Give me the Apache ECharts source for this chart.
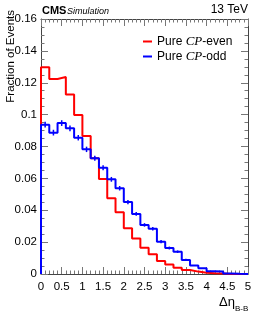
<!DOCTYPE html>
<html>
<head>
<meta charset="utf-8">
<script src="https://cdn.jsdelivr.net/npm/echarts@6/dist/echarts.min.js"></script>
<style>
html,body{margin:0;padding:0;background:#fff;}
#c{width:261px;height:327px;}
</style>
</head>
<body>
<div id="c"></div>
<script>
// Bin edges (Δη_B-B), 25 bins of width 0.2
var binEdges = [0,0.2,0.4,0.6,0.8,1.0,1.2,1.4,1.6,1.8,2.0,2.2,2.4,2.6,2.8,3.0,3.2,3.4,3.6,3.8,4.0,4.2,4.4,4.6,4.8,5.0];
var binCenters = [0.1,0.3,0.5,0.7,0.9,1.1,1.3,1.5,1.7,1.9,2.1,2.3,2.5,2.7,2.9,3.1,3.3,3.5,3.7,3.9,4.1,4.3,4.5,4.7,4.9];
// Pure CP-even (red)
var cpEven = [0.1297,0.1224,0.1236,0.1127,0.0998,0.0866,0.0726,0.0596,0.0475,0.0387,0.0287,0.0222,0.0165,0.0124,0.0082,0.0060,0.0040,0.0025,0.0015,0.0008,0.0005,0.0003,0,0,0];
// Pure CP-odd (blue)
var cpOdd = [0.0937,0.0887,0.0947,0.0914,0.0855,0.0782,0.0726,0.0667,0.0594,0.0538,0.0451,0.0377,0.0308,0.0284,0.0203,0.0163,0.0140,0.0088,0.0054,0.0036,0.0017,0.0016,0.0003,0.0001,0];
var cpOddErr = [0.0018,0.0018,0.0018,0.0018,0.0017,0.0017,0.0016,0.0016,0.0015,0.0014,0.0013,0.0012,0.0011,0.0011,0.0010,0.0009,0.0008,0.0007,0,0,0,0,0,0,0];
var yTicks = {min:0, max:0.16, interval:0.02};
var xTicks = {min:0, max:5, interval:0.5};

function stepData(vals){
  var d = [[binEdges[0],0]];
  for (var i=0;i<vals.length;i++){ d.push([binEdges[i], vals[i]]); }
  d.push([binEdges[binEdges.length-1], vals[vals.length-1]]);
  return d;
}
var errData = [];
for (var i=0;i<cpOdd.length;i++){ if(cpOddErr[i]>0) errData.push([binCenters[i], cpOdd[i], cpOddErr[i]]); }

var FONT = 'Liberation Sans';
var frameColor = '#444';
var tickColor = '#777';

function xAx(pos, show){
  return {
    type:'value', position:pos, min:xTicks.min, max:xTicks.max, interval:xTicks.interval,
    axisLine:{show:true, onZero:false, lineStyle:{color:frameColor, width:1}},
    axisTick:{show:true, inside:true, length:7, lineStyle:{color:tickColor}},
    minorTick:{show:true, splitNumber:5, length:3.5, lineStyle:{color:tickColor}},
    splitLine:{show:false},
    axisLabel:{show:show, color:'#000', fontSize:11.5, fontFamily:FONT, margin:7,
      formatter:function(v){return String(v);}}
  };
}
function yAx(pos, show){
  return {
    type:'value', position:pos, min:yTicks.min, max:yTicks.max, interval:yTicks.interval,
    axisLine:{show:true, onZero:false, lineStyle:{color:frameColor, width:1}},
    axisTick:{show:true, inside:true, length:7, lineStyle:{color:tickColor}},
    minorTick:{show:true, splitNumber:4, length:3.5, lineStyle:{color:tickColor}},
    splitLine:{show:false},
    axisLabel:{show:show, color:'#000', fontSize:11.5, fontFamily:FONT, margin:4,
      formatter:function(v){return String(Math.round(v*100)/100);}}
  };
}

var chart = echarts.init(document.getElementById('c'), null, {renderer:'canvas'});
chart.setOption({
  animation:false,
  backgroundColor:'#fff',
  grid:{left:41, right:13, top:19, bottom:53, containLabel:false},
  xAxis:[xAx('bottom', true), xAx('top', false)],
  yAxis:[yAx('left', true), yAx('right', false)],
  legend:{
    left:143, top:35, orient:'vertical', icon:'rect', itemWidth:9, itemHeight:2, itemGap:2, padding:[0,0,0,0],
    data:['Pure CP-even','Pure CP-odd'],
    textStyle:{color:'#000', fontSize:12, fontFamily:FONT,
      rich:{i:{fontStyle:'italic', fontFamily:'Liberation Serif', fontSize:13, color:'#000'}}},
    formatter:function(n){ return n.replace('CP','{i|CP}'); }
  },
  series:[
    {name:'Pure CP-even', type:'line', step:'end', symbol:'none', data:stepData(cpEven),
      lineStyle:{color:'#ff0000', width:2}, itemStyle:{color:'#ff0000'}, z:2},
    {name:'Pure CP-odd', type:'line', step:'end', symbol:'none', data:stepData(cpOdd),
      lineStyle:{color:'#0000ff', width:2}, itemStyle:{color:'#0000ff'}, z:3},
    {name:'odd-err', type:'custom', data:errData, z:4,
      renderItem:function(params, api){
        var x=api.value(0), y=api.value(1), e=api.value(2);
        var p1=api.coord([x,y+e]), p2=api.coord([x,y-e]);
        return {type:'line', shape:{x1:p1[0],y1:p1[1],x2:p2[0],y2:p2[1]},
          style:{stroke:'#0000ff', lineWidth:1.5}};
      }}
  ],
  graphic:[
    {type:'text', left:42, top:5, style:{text:'CMS', font:'bold 11px "Liberation Sans"', fill:'#000'}},
    {type:'text', left:67, top:6.5, style:{text:'Simulation', font:'italic 9px "Liberation Sans"', fill:'#000'}},
    {type:'text', right:13, top:4, style:{text:'13 TeV', font:'12px "Liberation Sans"', fill:'#000'}},
    {type:'text', x:11, y:10, rotation:Math.PI/2, style:{text:'Fraction of Events', font:'11.5px "Liberation Sans"', fill:'#000', align:'right', verticalAlign:'middle'}},
    {type:'text', x:235, y:302, style:{text:'Δη', font:'13px "Liberation Sans"', fill:'#000', align:'right', verticalAlign:'middle'}},
    {type:'text', x:235, y:309, style:{text:'B-B', font:'8px "Liberation Sans"', fill:'#000', align:'left', verticalAlign:'middle'}}
  ]
});
</script>
</body>
</html>
